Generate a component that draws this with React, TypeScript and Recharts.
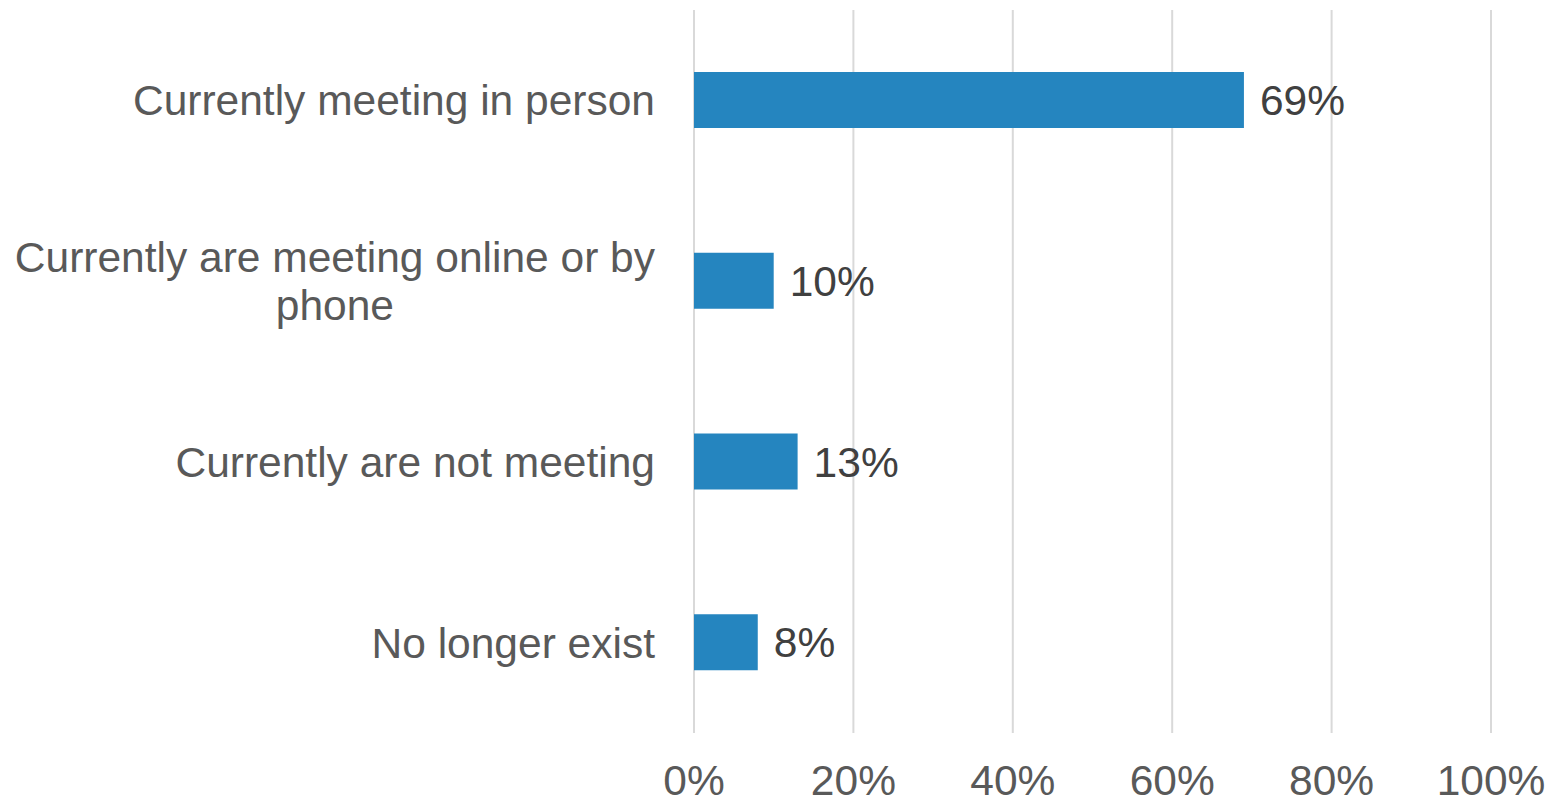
import React from 'react'
import { Bar, BarChart, CartesianGrid, LabelList, XAxis, YAxis } from 'recharts'

const categories = [
  'Currently meeting in person',
  'Currently are meeting online or by phone',
  'Currently are not meeting',
  'No longer exist',
]
const shares = [69, 10, 13, 8]
const xTicks = [0, 20, 40, 60, 80, 100]

const data = categories.map((name, i) => ({ name, value: shares[i] }))

const FONT = '"Liberation Sans", Arial, sans-serif'
const FONT_SIZE = 42.5
const LABEL_MAX_WIDTH = 650

let ctx: CanvasRenderingContext2D | null = null
const measure = (text: string) => {
  if (!ctx) {
    ctx = document.createElement('canvas').getContext('2d')
    if (ctx) ctx.font = `${FONT_SIZE}px ${FONT}`
  }
  return ctx ? ctx.measureText(text).width : text.length * FONT_SIZE * 0.5
}

const wrap = (text: string) => {
  const words = text.split(' ')
  const lines: string[] = []
  let cur = ''
  words.forEach((w) => {
    const next = cur ? `${cur} ${w}` : w
    if (cur && measure(next) > LABEL_MAX_WIDTH) {
      lines.push(cur)
      cur = w
    } else {
      cur = next
    }
  })
  if (cur) lines.push(cur)
  return lines
}

const CategoryTick = ({ x, y, payload }: any) => {
  const lines = wrap(String(payload.value))
  if (lines.length === 1) {
    return (
      <text x={x} y={y} dy="0.355em" textAnchor="end" fill="#595959" fontSize={FONT_SIZE} fontFamily={FONT}>
        {lines[0]}
      </text>
    )
  }
  const widest = Math.max(...lines.map(measure))
  const cx = x - widest / 2
  const lineH = 48
  const startY = y - ((lines.length - 1) * lineH) / 2
  return (
    <text textAnchor="middle" fill="#595959" fontSize={FONT_SIZE} fontFamily={FONT}>
      {lines.map((l, i) => (
        <tspan key={i} x={cx} y={startY + i * lineH} dy="0.355em">
          {l}
        </tspan>
      ))}
    </text>
  )
}

export default function App() {
  return (
    <div style={{ position: 'absolute', left: 0, top: 0, background: '#fff' }}>
      <BarChart
        width={1559}
        height={802}
        data={data}
        layout="vertical"
        margin={{ top: 10, right: 68, left: 0, bottom: 0 }}
      >
        <CartesianGrid horizontal={false} stroke="#d9d9d9" strokeWidth={2} />
        <XAxis
          type="number"
          domain={[0, 100]}
          ticks={xTicks}
          interval={0}
          axisLine={false}
          tickLine={false}
          tickMargin={26}
          height={69}
          tickFormatter={(v: number) => `${v}%`}
          tick={{ fill: '#595959', fontSize: FONT_SIZE, fontFamily: FONT }}
        />
        <YAxis
          type="category"
          dataKey="name"
          width={694}
          axisLine={false}
          tickLine={false}
          tickMargin={33}
          interval={0}
          tick={<CategoryTick />}
        />
        <Bar dataKey="value" fill="#2585bf" barSize={56} isAnimationActive={false}>
          <LabelList
            dataKey="value"
            position="right"
            offset={16}
            formatter={(v: any) => `${v}%`}
            fill="#404040"
            fontSize={FONT_SIZE}
            fontFamily={FONT}
          />
        </Bar>
      </BarChart>
    </div>
  )
}
